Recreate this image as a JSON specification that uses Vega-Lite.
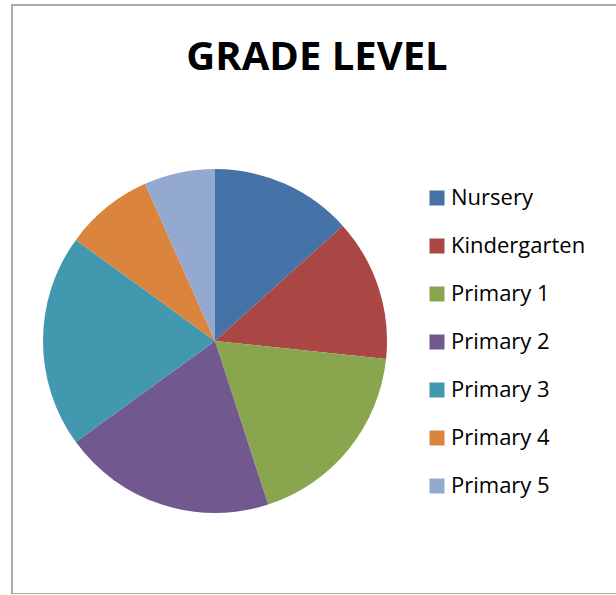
{
  "$schema": "https://vega.github.io/schema/vega-lite/v6.json",
  "autosize": {"type": "none"},
  "width": 610,
  "height": 589,
  "padding": {"left": 12, "top": 5, "right": 0, "bottom": 0},
  "background": "white",
  "title": {
    "text": "GRADE LEVEL",
    "font": "Open Sans",
    "fontSize": 40,
    "fontWeight": "bold",
    "color": "black",
    "anchor": "middle",
    "frame": "group",
    "baseline": "alphabetic",
    "offset": -105
  },
  "data": {
    "values": [
      {"grade": "Nursery", "count": 8, "k": 1},
      {"grade": "Kindergarten", "count": 8, "k": 2},
      {"grade": "Primary 1", "count": 11, "k": 3},
      {"grade": "Primary 2", "count": 12, "k": 4},
      {"grade": "Primary 3", "count": 12, "k": 5},
      {"grade": "Primary 4", "count": 5, "k": 6},
      {"grade": "Primary 5", "count": 4, "k": 7}
    ]
  },
  "mark": {"type": "arc", "outerRadius": 172, "strokeWidth": 0},
  "encoding": {
    "theta": {"field": "count", "type": "quantitative", "stack": true},
    "order": {"field": "k", "type": "quantitative"},
    "x": {"value": 203},
    "y": {"value": 336},
    "color": {
      "field": "grade",
      "type": "nominal",
      "scale": {
        "domain": ["Nursery", "Kindergarten", "Primary 1", "Primary 2", "Primary 3", "Primary 4", "Primary 5"],
        "range": ["#4572A7", "#AA4643", "#89A54E", "#71588F", "#4198AF", "#DB843D", "#93A9CF"]
      },
      "legend": {
        "title": null,
        "orient": "none",
        "legendX": 414,
        "legendY": 182,
        "symbolType": "square",
        "symbolSize": 225,
        "symbolStrokeWidth": 0,
        "symbolOpacity": 1,
        "labelFont": "Open Sans",
        "labelFontSize": 22,
        "labelColor": "black",
        "labelOffset": 3,
        "rowPadding": 26,
        "padding": 0
      }
    }
  },
  "config": {
    "view": {"stroke": "#8f8f8f", "strokeWidth": 1.5}
  }
}
